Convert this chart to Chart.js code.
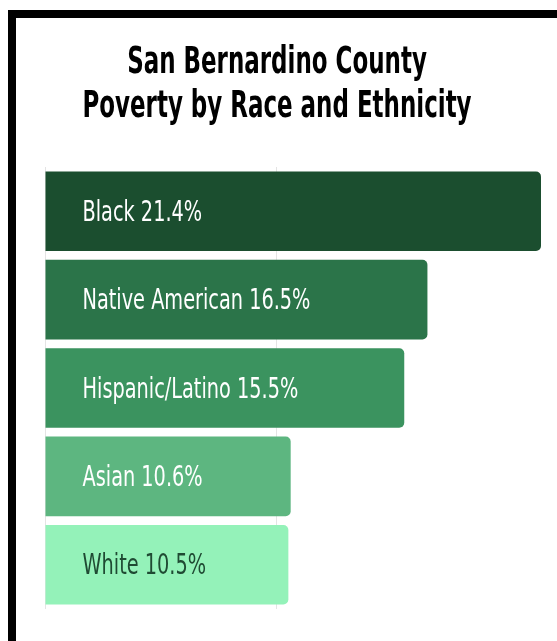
<!DOCTYPE html>
<html>
<head>
<meta charset="utf-8">
<title>San Bernardino County Poverty by Race and Ethnicity</title>
<script src="https://cdn.jsdelivr.net/npm/chart.js@4.4.1/dist/chart.umd.min.js"></script>
<style>
  html, body { margin: 0; padding: 0; background: #fff; }
  .frame {
    position: absolute;
    left: 8px;
    top: 10px;
    width: 560px;
    height: 640px;
    border-top: 8px solid #000;
    border-left: 8px solid #000;
  }
  .wrap { position: absolute; left: 0; top: 0; width: 557px; height: 641px; }
</style>
</head>
<body>
<div class="frame"></div>
<div class="wrap"><canvas id="povertyChart" width="557" height="641"></canvas></div>
<script>
  const groups = ['Black', 'Native American', 'Hispanic/Latino', 'Asian', 'White'];
  const rates = [21.4, 16.5, 15.5, 10.6, 10.5];
  const barColors = ['#1b4e2f', '#2b7449', '#3b935f', '#5db680', '#94f2b9'];
  const labelColors = ['#ffffff', '#ffffff', '#ffffff', '#ffffff', '#1f4a33'];
  const titleLines = ['San Bernardino County', 'Poverty by Race and Ethnicity'];

  const condensed = "'Liberation Sans Narrow', 'DejaVu Sans Condensed', sans-serif";

  // squeeze text horizontally so it reads like a condensed face
  function drawNarrow(ctx, text, x, y, sx) {
    ctx.save();
    ctx.translate(x, y);
    ctx.scale(sx, 1);
    ctx.fillText(text, 0, 0);
    ctx.restore();
  }

  // title drawn centred on the page, two lines
  const titlePlugin = {
    id: 'pageTitle',
    afterDraw(chart) {
      const ctx = chart.ctx;
      ctx.save();
      ctx.fillStyle = '#000';
      ctx.font = 'bold 37px ' + condensed;
      ctx.textAlign = 'center';
      ctx.textBaseline = 'alphabetic';
      drawNarrow(ctx, titleLines[0], 277, 73, 0.69);
      drawNarrow(ctx, titleLines[1], 277, 117, 0.69);
      ctx.restore();
    }
  };

  // "Name value%" written inside each bar
  const barLabels = {
    id: 'barLabels',
    afterDatasetsDraw(chart) {
      const ctx = chart.ctx;
      const meta = chart.getDatasetMeta(0);
      ctx.save();
      ctx.font = '29px ' + condensed;
      ctx.textAlign = 'left';
      ctx.textBaseline = 'middle';
      meta.data.forEach((bar, i) => {
        ctx.fillStyle = labelColors[i];
        drawNarrow(ctx, groups[i] + ' ' + rates[i] + '%', bar.base + 37, bar.y + 2, 0.74);
      });
      ctx.restore();
    }
  };

  new Chart(document.getElementById('povertyChart'), {
    type: 'bar',
    data: {
      labels: groups,
      datasets: [{
        data: rates,
        backgroundColor: barColors,
        borderRadius: 5,
        borderSkipped: 'start',
        barPercentage: 1,
        categoryPercentage: 0.9
      }]
    },
    options: {
      indexAxis: 'y',
      responsive: false,
      animation: false,
      layout: { padding: { left: 45, right: 16, top: 167, bottom: 32 } },
      plugins: {
        legend: { display: false },
        tooltip: { enabled: false }
      },
      scales: {
        x: {
          min: 0,
          max: 21.4,
          ticks: { display: false, stepSize: 10 },
          border: { display: false },
          grid: {
            drawTicks: false,
            color: ctx => (ctx.tick && ctx.tick.value % 10 === 0) ? '#e4e4e4' : 'rgba(0,0,0,0)'
          }
        },
        y: { display: false }
      }
    },
    plugins: [titlePlugin, barLabels]
  });
</script>
</body>
</html>
